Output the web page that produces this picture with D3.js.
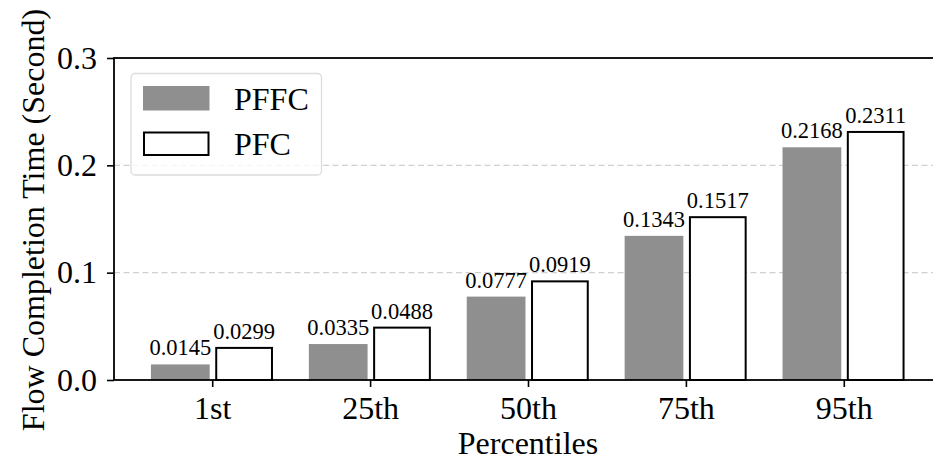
<!DOCTYPE html>
<html><head><meta charset="utf-8">
<script src="https://cdn.jsdelivr.net/npm/d3@7"></script>
<style>body{margin:0;background:#fff}svg{display:block}text{font-family:"Liberation Serif","Times New Roman",serif;fill:#000}</style>
</head><body>
<script>
const categories = ["1st","25th","50th","75th","95th"];
const pffc = [0.0145,0.0335,0.0777,0.1343,0.2168];
const pfc  = [0.0299,0.0488,0.0919,0.1517,0.2311];
const seriesNames = ["PFFC","PFC"];
const yTicks = [0.0,0.1,0.2,0.3];

(function(){
const W=933,H=461;
const svg=d3.select("body").append("svg").attr("width",W).attr("height",H);
const pL=114, pT=58, pB=380, pR=942;
const x=d3.scaleLinear().domain([-0.622,4.622]).range([pL,pR]);
const y=d3.scaleLinear().domain([0,0.3]).range([pB,pT]);
const bw = x(0.372)-x(0);
const gap = x(0.016)-x(0);

// grid
svg.append("g").selectAll("line").data([0.1,0.2]).join("line")
  .attr("x1",pL).attr("x2",W).attr("y1",d=>y(d)).attr("y2",d=>y(d))
  .attr("stroke","#d0d0d0").attr("stroke-width",1.3).attr("stroke-dasharray","6,3.5");

// bars
const g=svg.append("g");
g.selectAll("rect.a").data(pffc).join("rect").attr("class","a")
  .attr("x",(d,i)=>x(i)-gap-bw).attr("width",bw)
  .attr("y",d=>y(d)).attr("height",d=>y(0)-y(d)).attr("fill","#8f8f8f");
g.selectAll("rect.b").data(pfc).join("rect").attr("class","b")
  .attr("x",(d,i)=>x(i)+gap+1.5).attr("width",bw-3)
  .attr("y",d=>y(d)).attr("height",d=>y(0)-y(d)).attr("fill","#fff")
  .attr("stroke","#000").attr("stroke-width",2);

// value labels
g.selectAll("text.a").data(pffc).join("text").attr("class","a")
  .attr("x",(d,i)=>x(i)-gap-bw/2).attr("y",d=>y(d)-9)
  .attr("text-anchor","middle").attr("font-size",22.5).text(d=>d.toFixed(4));
g.selectAll("text.b").data(pfc).join("text").attr("class","b")
  .attr("x",(d,i)=>x(i)+gap+bw/2).attr("y",d=>y(d)-9)
  .attr("text-anchor","middle").attr("font-size",22.5).text(d=>d.toFixed(4));

// axes
const yAxis=svg.append("g").attr("transform",`translate(${pL},0)`)
  .call(d3.axisLeft(y).tickValues(yTicks).tickFormat(d3.format(".1f")).tickSize(7).tickPadding(10));
const xAxis=svg.append("g").attr("transform",`translate(0,${pB})`)
  .call(d3.axisBottom(x).tickValues(d3.range(categories.length)).tickFormat(i=>categories[i]).tickSize(7).tickPadding(9));
[yAxis,xAxis].forEach(a=>{
  a.select(".domain").remove();
  a.selectAll(".tick line").attr("stroke","#000").attr("stroke-width",1.6);
  a.selectAll(".tick text").attr("font-size",32).attr("font-family","Liberation Serif").attr("fill","#000");
});
// spines
svg.append("rect").attr("x",pL).attr("y",pT).attr("width",pR-pL).attr("height",pB-pT)
  .attr("fill","none").attr("stroke","#000").attr("stroke-width",1.8);

// axis labels
svg.append("text").attr("x",528).attr("y",453.5).attr("text-anchor","middle")
  .attr("font-size",32).text("Percentiles");
svg.append("text").attr("transform",`translate(43.5,220) rotate(-90)`)
  .attr("text-anchor","middle").attr("font-size",32).text("Flow Completion Time (Second)");

// legend
const lg=svg.append("g");
lg.append("rect").attr("x",131).attr("y",73.5).attr("width",190.5).attr("height",101.5).attr("rx",4)
  .attr("fill","#fff").attr("fill-opacity",0.8).attr("stroke","#dcdcdc").attr("stroke-width",1.3);
lg.append("rect").attr("x",143).attr("y",86).attr("width",66.5).attr("height",24.5).attr("fill","#8f8f8f");
lg.append("rect").attr("x",144).attr("y",132.5).attr("width",64.5).attr("height",22.5)
  .attr("fill","#fff").attr("stroke","#000").attr("stroke-width",2);
lg.selectAll("text").data(seriesNames).join("text")
  .attr("x",234).attr("y",(d,i)=>110+i*45).attr("font-size",32).text(d=>d);
})();
</script>
</body></html>
